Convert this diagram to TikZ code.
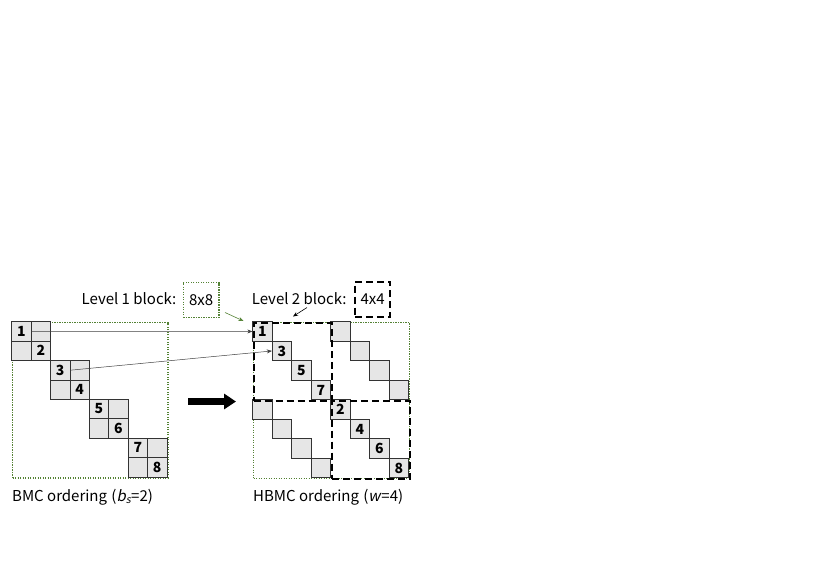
\documentclass[tikz,border=0pt]{standalone}
\usepackage{fontspec}
\setmainfont{Noto Sans CJK JP}
\newfontfamily\slfont{Noto Sans CJK JP}[FakeSlant=0.2]
\usetikzlibrary{arrows.meta}
\definecolor{lvgreen}{HTML}{548235}
\definecolor{cellgray}{HTML}{E6E6E6}
\tikzset{
  cell/.style={draw=black!80, line width=0.7pt, fill=cellgray, minimum size=19.4pt, inner sep=0pt, font=\bfseries\fontsize{14}{14}\selectfont},
  rcell/.style={cell, minimum size=19.5pt},
  lvone/.style={draw=lvgreen, dash pattern=on 1.4pt off 1.1pt, line width=1.7pt},
  lvtwo/.style={draw=black, dash pattern=on 7pt off 4pt, line width=1.8pt},
  lbl/.style={font=\fontsize{15}{15}\selectfont, inner sep=0pt, anchor=west},
  thinarrow/.style={draw=black!75, line width=0.5pt, -{Stealth[length=5pt,width=4pt]}},
  greenarrow/.style={draw=lvgreen, line width=0.6pt, -{Stealth[length=5pt,width=4pt]}},
  blackarrow/.style={draw=black, line width=0.6pt, -{Stealth[length=5pt,width=4pt]}},
  bigarrow/.style={draw=black, line width=6.5pt, -{Triangle[length=12pt,width=15pt]}},
  boxlbl/.style={minimum width=35.5pt, minimum height=35pt, inner sep=0pt, font=\fontsize{15}{15}\selectfont},
}
\begin{document}
\begin{tikzpicture}[x=1pt,y=-1pt]
\useasboundingbox (0,0) rectangle (819,579);
% left matrix (BMC)
\node[lvone, minimum size=155.2pt, inner sep=0pt, anchor=north west] (Lbox) at (11.7,321.7) {};
\foreach \k in {0,1,2,3}{
  \foreach \dr/\dc in {0/0,0/1,1/0,1/1}{
    \pgfmathtruncatemacro\r{2*\k+\dr}
    \pgfmathtruncatemacro\c{2*\k+\dc}
    \pgfmathtruncatemacro\n{2*\k+\dr+1}
    \ifnum\dr=\dc \edef\txt{\n}\else\def\txt{}\fi
    \node[cell] (L\r\c) at ({11.7+19.4*(\c+0.5)},{321.7+19.4*(\r+0.5)}) {\txt};
  }
}
% right matrix (HBMC)
\node[lvone, minimum size=156pt, inner sep=0pt, anchor=north west] (Rbox) at (252.7,321.7) {};
\foreach \r/\c/\t in {0/0/1,1/1/3,2/2/5,3/3/7,4/4/2,5/5/4,6/6/6,7/7/8,0/4/{},1/5/{},2/6/{},3/7/{},4/0/{},5/1/{},6/2/{},7/3/{}}{
  \node[rcell] (R\r\c) at ({252.7+19.5*(\c+0.5)},{321.7+19.5*(\r+0.5)}) {\t};
}
\node[lvtwo, minimum size=78pt, inner sep=0pt, anchor=north west] (Q1) at (252.7,321.7) {};
\node[lvtwo, minimum size=78pt, inner sep=0pt, anchor=north west] (Q4) at (330.7,399.7) {};
% labels
\node[lbl] (lv1) at (81.5,299) {Level 1 block:};
\node[lvone, boxlbl] (b1) at (201.2,300) {8x8};
\node[lbl] (lv2) at (251.7,299) {Level 2 block:};
\node[lvtwo, boxlbl] (b2) at (372.6,299.2) {4x4};
% pointer arrows
\coordinate (g1s) at (225,312.5);
\coordinate (g1e) at (243.5,321);
\draw[greenarrow] (g1s) -- (g1e);
\coordinate (k1s) at (307,307.5);
\coordinate (k1e) at (293,316.5);
\draw[blackarrow] (k1s) -- (k1e);
\draw[thinarrow] (L00.east) -- (R00.west);
\draw[thinarrow] (L22.east) -- (R11.west);
% big arrow
\coordinate (ta) at (188,401.5);
\coordinate (tb) at (236,401.5);
\draw[bigarrow] (ta) -- (tb);
% captions
\node[lbl] (c1) at (12,497) {BMC ordering \kern1pt({\slfont b}\textsubscript{\slfont s}=2)};
\node[lbl] (c2) at (253,497) {HBMC ordering \kern1pt({\slfont w}\kern1pt=4)};
\end{tikzpicture}
\end{document}
